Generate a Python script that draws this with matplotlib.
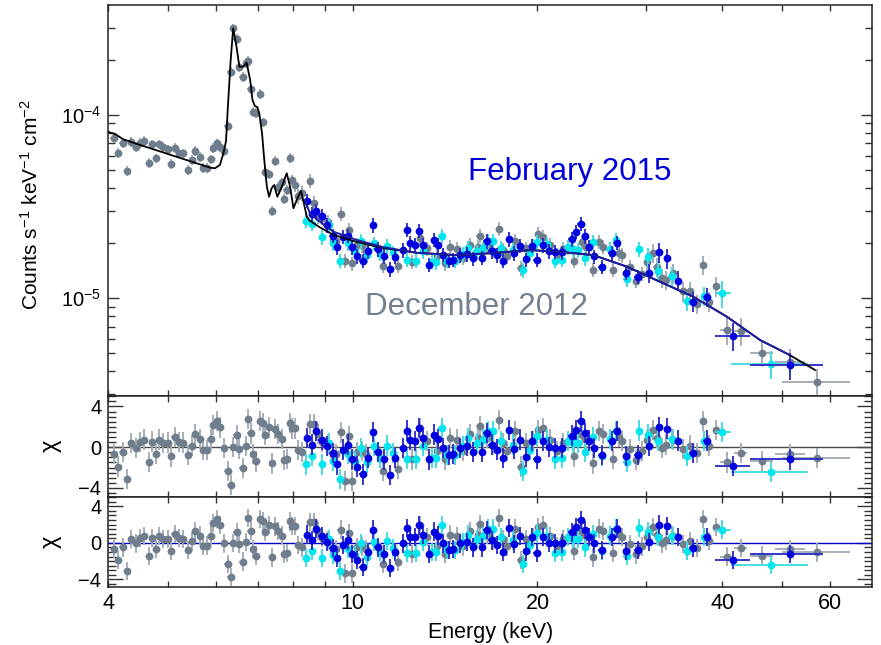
import numpy as np
import matplotlib
matplotlib.use("Agg")
import matplotlib.pyplot as plt
from matplotlib.ticker import FixedLocator, FixedFormatter, NullFormatter, MultipleLocator

plt.rcParams['font.family'] = ['Liberation Sans', 'DejaVu Sans']
plt.rcParams['mathtext.fontset'] = 'custom'
plt.rcParams['mathtext.rm'] = 'Liberation Sans'
plt.rcParams['mathtext.it'] = 'Liberation Sans:italic'
plt.rcParams['mathtext.default'] = 'regular'

# ---- spectra (energy keV, flux in 1e-5 counts/s/keV/cm2, residual chi) ----
dec_e = [4.08, 4.15, 4.22, 4.29, 4.36, 4.43, 4.50, 4.58, 4.66, 4.72, 4.78, 4.84, 4.91,
         5.00, 5.07, 5.13, 5.22, 5.30, 5.39, 5.48, 5.54, 5.64, 5.71, 5.80, 5.87, 5.92,
         6.01, 6.08, 6.17, 6.26, 6.33, 6.39, 6.47, 6.54, 6.62, 6.70, 6.75, 6.82, 6.89,
         6.96, 7.06, 7.14, 7.21, 7.30, 7.40, 7.48, 7.56, 7.67, 7.73, 7.81, 7.91, 7.98,
         8.07, 8.16, 8.26, 8.52, 8.64, 8.79, 8.92, 9.13, 9.30, 9.41, 9.56, 9.71, 9.86,
         9.99, 10.15, 10.34, 10.53, 11.20, 11.87, 12.48, 12.87, 13.20, 13.71, 14.14,
         14.41, 14.77, 15.14, 15.53, 16.02, 16.10, 16.53, 16.94, 17.30, 17.55, 17.82,
         18.39, 18.78, 19.19, 19.69, 20.06, 20.44, 20.97, 21.50, 22.04, 22.94, 23.62,
         23.97, 24.65, 25.21, 25.59, 26.57, 27.18, 27.42, 28.30, 28.93, 29.55, 30.19,
         30.80, 31.27, 31.86, 32.38, 33.28, 34.56, 35.44, 36.42, 37.24, 38.08, 39.05]
dec_f = [7.46, 6.23, 7.01, 4.95, 7.15, 6.71, 7.06, 7.21, 5.49, 6.92, 5.80, 6.92, 6.71,
         6.50, 5.40, 6.63, 6.18, 6.18, 5.01, 5.68, 6.39, 5.92, 5.16, 5.16, 5.73, 6.63,
         7.01, 6.71, 6.39, 8.71, 17.2, 29.7, 26.0, 18.3, 16.1, 19.3, 19.7, 13.9, 10.4,
         10.3, 13.0, 9.12, 4.91, 4.75, 2.99, 5.61, 4.06, 4.30, 3.48, 3.90, 5.85, 4.42,
         4.15, 3.60, 3.74, 4.38, 3.30, 2.79, 2.75, 2.60, 2.05, 2.05, 2.90, 1.60, 2.35,
         1.55, 1.95, 1.95, 1.80, 1.50, 1.50, 1.58, 2.12, 1.87, 1.70, 1.55,
         1.90, 1.86, 1.66, 1.95, 1.90, 2.20, 1.92, 1.80, 2.40, 1.83, 1.70,
         2.05, 1.46, 1.87, 1.92, 2.25, 2.17, 1.95, 1.72, 1.86, 1.60, 2.04,
         1.90, 1.43, 2.04, 1.91, 1.43, 1.76, 1.72, 1.48, 1.25, 1.36, 1.58,
         1.76, 1.49, 1.29, 1.26, 1.38, 1.09, 1.09, 0.93, 1.52, 0.96, 1.16]
dec_chi = [-0.65, -1.9, -0.5, -3.1, 0.4, -0.07, 0.5, 0.75, -1.45, 0.55, -0.7, 0.75, 0.4,
           0.45, -0.9, 1.0, 0.5, 0.45, -0.8, 0.15, 1.3, 0.8, -0.3, -0.3, 0.8, 2.2,
           2.6, 1.95, -0.07, -2.35, -3.75, 0.0, 1.15, -0.15, -2.05, 0.1, 2.75, 1.35, -0.65,
           -1.4, 2.6, 2.35, 1.2, 1.95, -1.6, 1.8, 1.3, 0.8, -1.25, -1.15, 2.35, 1.85,
           1.85, -0.25, -0.5, 2.3, 2.3, 1.3, 0.5, 0.25, -0.8, -0.65, 1.45, -3.35, 1.05,
           -3.35, -0.5, -0.4, -0.65, -2.35, -2.1, -1.2, 1.9, 0.6, -0.4, -1.2,
           0.9, 0.75, -0.4, 1.25, 0.9, 2.05, 0.9, 0.26, 2.7, 0.42, -0.4,
           1.56, -1.9, 0.42, 0.6, 1.7, 1.9, 0.75, -0.4, 0.42, -0.9, 1.24,
           0.75, -1.6, 1.56, 1.3, -1.14, 0.98, 0.6, -0.16, -1.27, -0.4, 0.68,
           1.72, 0.9, -0.07, 0.26, 0.75, -0.16, 0.16, -0.6, 2.6, 0.16, 1.72]
# broad high-energy bins: centre, flux, chi, bin low edge, bin high edge
dec_wide_e = [40.7, 42.9, 46.5, 51.5, 57.0]
dec_wide_f = [0.672, 0.663, 0.505, 0.45, 0.351]
dec_wide_chi = [-1.5, -0.55, -1.4, -0.7, -1.05]
dec_wide_lo = [39.6, 41.8, 44.4, 48.7, 50.0]
dec_wide_hi = [41.7, 43.9, 48.4, 54.5, 64.6]

feb_e = [8.42, 8.58, 8.72, 8.90, 9.07, 9.28, 9.44, 9.64, 9.84, 9.97, 10.17, 10.38, 10.60,
         10.79, 10.98, 11.26, 11.51, 11.72, 12.07, 12.25, 12.40, 12.62, 12.82, 13.01,
         13.32, 13.57, 13.79, 14.05, 14.37, 14.58, 14.96, 15.33, 15.72, 16.23, 16.53,
         16.84, 17.20, 17.59, 17.99, 18.32, 18.74, 19.19, 19.58, 19.94, 20.44, 20.89,
         21.35, 21.90, 22.74, 23.11, 23.52, 23.90, 24.29, 24.74, 25.43, 26.41, 26.91,
         27.87, 29.11, 30.41, 31.54, 32.53, 33.91, 35.80, 37.72]
feb_f = [3.40, 2.90, 3.00, 2.80, 2.50, 2.20, 1.90, 2.17, 2.20, 1.90, 1.70, 1.60, 1.80,
         2.50, 1.85, 1.70, 1.44, 1.68, 1.83, 2.36, 2.00, 1.95, 2.33, 1.95,
         1.52, 2.08, 1.95, 1.73, 1.60, 1.62, 1.72, 1.74, 1.65, 1.66, 2.05,
         1.80, 1.72, 1.60, 2.10, 1.76, 1.93, 1.63, 1.93, 1.62, 1.95, 1.81,
         1.79, 1.78, 2.10, 2.30, 2.55, 2.18, 1.90, 1.69, 1.49, 1.76, 2.01,
         1.38, 1.31, 1.38, 1.78, 1.65, 1.25, 0.96, 1.02]
feb_chi = [0.9, 0.26, 1.56, 0.75, 0.1, -0.6, -1.7, -0.23, 0.26, -1.2, -1.9, -2.67, -1.04,
           1.46, -0.5, -1.2, -2.76, -1.04, -0.07, 1.63, 0.68, 0.6, 1.9, 0.9,
           -1.2, 1.24, 0.8, -0.07, -0.8, -0.7, -0.07, 0.1, -0.5, -0.5, 1.4,
           0.26, -0.23, -1.04, 1.66, -0.16, 0.75, -0.94, 0.6, -1.14, 0.6, 0.03,
           -0.07, -0.07, 1.14, 1.72, 2.54, 1.4, 0.65, -0.07, -0.8, 0.6, 1.56,
           -0.88, -0.8, 0.1, 2.0, 1.82, 0.65, -0.6, 0.65]
feb_wide_e = [41.6, 51.5]
feb_wide_f = [0.623, 0.43]
feb_wide_chi = [-1.85, -1.2]
feb_wide_lo = [38.9, 44.4]
feb_wide_hi = [44.3, 58.4]

fpmb_e = [8.40, 8.58, 8.93, 9.16, 9.30, 9.53, 9.84, 10.09, 10.31, 10.55, 10.83, 11.09,
          11.37, 11.65, 12.25, 12.66, 13.04, 13.46, 13.67, 13.96, 14.23, 14.68, 15.10,
          15.43, 15.92, 16.32, 16.63, 16.94, 17.42, 18.27, 18.98, 19.45, 19.94, 20.70,
          21.35, 21.90, 22.46, 22.88, 23.32, 23.90, 24.60, 25.43, 26.24, 26.84, 27.94,
          29.26, 30.30, 31.46, 33.08, 35.00, 37.38]
fpmb_f = [2.65, 2.55, 2.15, 2.50, 2.00, 1.60, 2.00, 1.80, 2.05, 1.72, 1.99, 1.75,
          1.94, 1.78, 1.62, 1.60, 1.80, 1.58, 1.57, 2.20, 1.60, 1.60, 1.74,
          1.88, 1.80, 1.87, 2.05, 2.05, 1.88, 1.83, 1.42, 1.77, 2.03, 1.97,
          1.60, 1.62, 1.90, 1.85, 1.83, 1.65, 2.04, 1.49, 1.85, 2.08, 1.27,
          1.85, 1.67, 1.41, 1.32, 0.97, 1.03]
fpmb_chi = [-1.7, -0.88, -1.7, 0.42, -1.37, -3.1, -0.7, -1.37, -0.07, -1.5, 0.1, -1.04,
            0.16, -0.55, -1.14, -1.14, 0.1, -1.04, -1.04, 1.9, -0.8, -0.8, 0.1,
            0.9, 0.42, 0.75, 1.56, 1.56, 0.6, 0.26, -2.35, -0.23, 1.07, 0.75,
            -1.14, -1.04, 0.6, 0.42, 0.42, -0.5, 1.0, -0.88, 0.8, 1.56, -1.46,
            1.63, 1.24, 0.6, 0.8, -0.88, 0.6]
fpmb_wide_e = [40.0, 48.0]
fpmb_wide_f = [1.065, 0.438]
fpmb_wide_chi = [1.46, -2.44]
fpmb_wide_lo = [38.9, 41.4]
fpmb_wide_hi = [41.3, 55.2]

# ---- best-fit models ----
dec_model_e = [4.0, 4.03, 4.10, 4.23, 4.39, 5.86, 5.97, 6.08, 6.16, 6.22, 6.26, 6.33,
               6.39, 6.47, 6.54, 6.64, 6.72, 6.81, 6.87, 6.93, 7.00, 7.06, 7.12, 7.18,
               7.25, 7.31, 7.38, 7.45, 7.54, 7.67, 7.81, 7.91, 8.01, 8.13, 8.24, 8.33,
               8.42, 8.52, 8.84, 9.30, 10.15, 11.22, 12.72, 14.77, 16.73, 19.45, 21.5,
               24.65, 27.94, 31.66, 35.88, 40.67, 46.08, 51.45, 56.64]
dec_model_f = [8.1, 8.01, 7.88, 7.37, 7.06, 5.16, 5.12, 5.34, 6.18, 7.2, 10.65, 19.95,
               29.7, 23.6, 18.34, 18.34, 19.29, 15.5, 12.07, 11.2, 11.02, 9.79, 7.95, 5.68,
               4.06, 3.58, 3.98, 4.15, 3.58, 4.06, 4.81, 4.06, 3.10, 3.51, 3.86, 3.30,
               2.79, 2.65, 2.44, 2.22, 2.03, 1.88, 1.77, 1.72, 1.76, 1.83, 1.80,
               1.72, 1.49, 1.23, 1.02, 0.794, 0.592, 0.491, 0.406]
feb_model_e = [8.36, 8.52, 8.84, 9.30, 10.15, 11.22, 12.72, 14.77, 16.73, 19.45, 21.5,
               24.65, 27.94, 31.66, 35.88, 40.67, 46.08, 51.45]
feb_model_f = [3.44, 2.91, 2.62, 2.31, 2.08, 1.90, 1.77, 1.72, 1.76, 1.83, 1.80,
               1.72, 1.49, 1.23, 1.02, 0.794, 0.592, 0.491]

SCALE = 1e-5
GRAY, GRAY_BAR = '#6f7d8c', '#a3acb6'
BLUE, BLUE_BAR = '#0000e0', '#2f2fc8'
CYAN, CYAN_BAR = '#00e6ee', '#3fd9e2'


def series(e, f, chi, we, wf, wchi, wlo, whi):
    e = np.array(e + we)
    f = np.array(f + wf) * SCALE
    chi = np.array(chi + wchi)
    lo = np.concatenate([np.array(e[:len(e) - len(we)]) * 0.988, wlo])
    hi = np.concatenate([np.array(e[:len(e) - len(we)]) * 1.012, whi])
    return e, f, chi, lo, hi


def draw(axes_list, data, col, bar, z):
    e, f, chi, lo, hi = data
    xerr = [e - lo, hi - e]
    rel = np.where(e < 8, 0.06, np.where(e < 30, 0.09, np.where(e < 40, 0.12, 0.17)))
    kw = dict(fmt='o', ms=5.6, mfc=col, mec=col, mew=0, ecolor=bar,
              elinewidth=1.35, capsize=0, zorder=z)
    axes_list[0].errorbar(e, f, yerr=f * rel, xerr=xerr, **kw)
    for r in axes_list[1:]:
        r.errorbar(e, chi, yerr=1.0, xerr=xerr, **kw)


fig = plt.figure(figsize=(8.81, 6.45), dpi=100)
ax = fig.add_axes([0.1229, 0.3865, 0.8672, 0.6057])
r1 = fig.add_axes([0.1229, 0.2299, 0.8672, 0.1566], sharex=ax)
r2 = fig.add_axes([0.1229, 0.0895, 0.8672, 0.1405], sharex=ax)

dec = series(dec_e, dec_f, dec_chi, dec_wide_e, dec_wide_f, dec_wide_chi, dec_wide_lo, dec_wide_hi)
feb = series(feb_e, feb_f, feb_chi, feb_wide_e, feb_wide_f, feb_wide_chi, feb_wide_lo, feb_wide_hi)
fpmb = series(fpmb_e, fpmb_f, fpmb_chi, fpmb_wide_e, fpmb_wide_f, fpmb_wide_chi,
              fpmb_wide_lo, fpmb_wide_hi)

draw([ax, r1, r2], dec, GRAY, GRAY_BAR, 3)
draw([ax, r1, r2], fpmb, CYAN, CYAN_BAR, 4)
draw([ax, r1, r2], feb, BLUE, BLUE_BAR, 5)

ax.plot(dec_model_e, np.array(dec_model_f) * SCALE, color='black', lw=1.3, zorder=6)
ax.plot(feb_model_e, np.array(feb_model_f) * SCALE, color='#1d1da6', lw=1.4, zorder=7)

r1.axhline(0, color='#4a4a4a', lw=1.0, zorder=2)
r2.axhline(0, color='#0000c8', lw=1.0, zorder=2)

ax.set_xscale('log')
ax.set_yscale('log')
ax.set_xlim(4, 70.2)
ax.set_ylim(2.94e-6, 3.98e-4)
for r in (r1, r2):
    r.set_ylim(-4.87, 5.06)
    r.yaxis.set_major_locator(FixedLocator([-4, 0, 4]))
    r.yaxis.set_minor_locator(MultipleLocator(0.5))
    r.set_ylabel('χ', fontsize=17)
    r.yaxis.set_label_coords(-0.061, 0.5)
    r.tick_params(axis='y', which='major', length=11)
    r.tick_params(axis='y', which='minor', length=5.5)

xt = [4, 10, 20, 40, 60]
for a in (ax, r1, r2):
    a.xaxis.set_major_locator(FixedLocator(xt))
    a.xaxis.set_minor_locator(FixedLocator([5, 6, 7, 8, 9, 30, 50]))
    a.xaxis.set_minor_formatter(NullFormatter())
    a.tick_params(which='both', direction='in', top=True, right=True,
                  labelsize=14.5, width=1.0, color='#333333', pad=5)
    a.tick_params(axis='x', which='both', length=4)
    for s in a.spines.values():
        s.set_linewidth(1.1)
        s.set_color('#222222')

ax.tick_params(axis='y', which='major', length=8)
ax.tick_params(axis='y', which='minor', length=5)
ax.yaxis.set_minor_formatter(NullFormatter())
ax.tick_params(axis='x', labelbottom=False)
r1.tick_params(axis='x', labelbottom=False)
r2.xaxis.set_major_formatter(FixedFormatter([str(v) for v in xt]))
r2.tick_params(axis='x', labelsize=15.5, pad=4)
r2.set_xlabel('Energy (keV)', fontsize=15.5, labelpad=6)

ax.set_ylabel(r'Counts s$^{-1}$ keV$^{-1}$ cm$^{-2}$', fontsize=15)
ax.yaxis.set_label_coords(-0.087, 0.49)

ax.text(0.4712, 0.552, 'February 2015', transform=ax.transAxes, color='#0000d8',
        fontsize=22.5, va='baseline', ha='left')
ax.text(0.336, 0.2066, 'December 2012', transform=ax.transAxes, color='#738090',
        fontsize=22.5, va='baseline', ha='left')

fig.savefig('out.png', dpi=100)
